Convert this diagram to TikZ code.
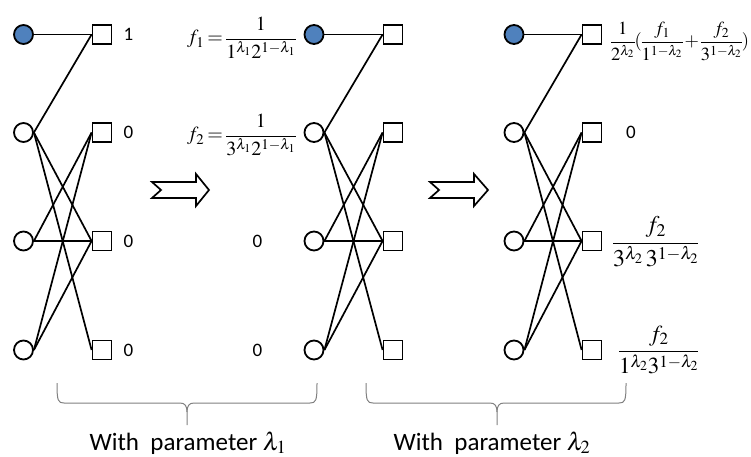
\documentclass[tikz,border=0pt]{standalone}
\usepackage{mathptmx}
\usepackage[no-math]{fontspec}
\setmainfont{Carlito}
\definecolor{nodeblue}{RGB}{79,129,189}
\definecolor{bracegray}{RGB}{128,128,128}
\newcommand{\fmtight}{\nulldelimiterspace=0pt\relax\medmuskip=2mu\relax\thickmuskip=3mu\relax}
\tikzset{
  vnode/.style={circle, draw=black, line width=1.8pt, minimum size=19pt, inner sep=0pt},
  snode/.style={rectangle, draw=black, line width=1.8pt, minimum size=19pt, inner sep=0pt, fill=white},
  edge/.style={line width=1.7pt},
  digit/.style={inner sep=0pt, font=\fontsize{19}{19}\selectfont},
  formula/.style={inner sep=0pt, anchor=base west, font=\fontsize{#1}{#1}\selectfont},
  formula/.default=20,
  bracepath/.style={draw=bracegray, line width=1pt},
  hollowarrow/.style={draw=black, line width=1.7pt, fill=white, line join=miter},
  caption/.style={inner sep=0pt, anchor=base, font=\fontsize{25}{25}\selectfont}
}
\begin{document}
\begin{tikzpicture}[x=1pt,y=-1pt]
\useasboundingbox (0,0) rectangle (751,457);

% three bipartite graphs
\foreach \g/\cx/\sx in {a/23.5/102,b/314/393,c/514/592}{
  \foreach \i/\y/\f in {1/34.5/nodeblue,2/132.5/white,3/241/white,4/350/white}{
    \node[vnode, fill=\f] (\g c\i) at (\cx,\y) {};
    \node[snode] (\g s\i) at (\sx,\y) {};
  }
  \foreach \p/\q in {1/1,2/1,2/3,2/4,3/2,3/3,4/2,4/3}
    \draw[edge] (\g c\p.east) -- (\g s\q.west);
}

% left labels
\node[digit] (la1) at (128.5,34.5) {1};
\node[digit] (la2) at (128.5,132.5) {0};
\node[digit] (la3) at (128.5,241) {0};
\node[digit] (la4) at (128.5,350) {0};

% middle labels
\node[formula] (f1) at (187,44) {\fmtight$\displaystyle f_1=\frac{1}{1^{\lambda_1}2^{1-\lambda_1}}$};
\node[formula] (f2) at (187,141) {\fmtight$\displaystyle f_2=\frac{1}{3^{\lambda_1}2^{1-\lambda_1}}$};
\node[digit] (lb3) at (257.5,241) {0};
\node[digit] (lb4) at (257.5,350) {0};

% right labels
\node[formula=18.5] (r1) at (611,47) {\fmtight$\displaystyle \frac{1}{2^{\lambda_2}}(\frac{f_1}{1^{1-\lambda_2}}+\frac{f_2}{3^{1-\lambda_2}})$};
\node[digit] (lc2) at (631,132.5) {0};
\node[formula=24] (r3) at (613,249) {\fmtight$\displaystyle \frac{f_2}{3^{\lambda_2}\,3^{1-\lambda_2}}$};
\node[formula=23] (r4) at (619,357) {\fmtight$\displaystyle \frac{f_2}{1^{\lambda_2}3^{1-\lambda_2}}$};

% hollow arrows
\draw[hollowarrow] (152,182) -- (196,182) -- (196,174) -- (209,190) -- (196,206) -- (196,198) -- (152,198) -- (161,190) -- cycle;
\draw[hollowarrow] (430,182) -- (474,182) -- (474,174) -- (488,190) -- (474,206) -- (474,198) -- (430,198) -- (439,190) -- cycle;

% braces
\draw[bracepath] (57,383) .. controls (57,401) and (58,403) .. (64,403) -- (180,403) .. controls (185,403) and (187,406) .. (187,412) -- (187,425);
\draw[bracepath] (317,383) .. controls (317,401) and (316,403) .. (310,403) -- (194,403) .. controls (189,403) and (187,406) .. (187,412);
\draw[bracepath] (366,383) .. controls (366,401) and (367,403) .. (373,403) -- (490,403) .. controls (495,403) and (497,406) .. (497,412) -- (497,425);
\draw[bracepath] (626,383) .. controls (626,401) and (625,403) .. (619,403) -- (504,403) .. controls (499,403) and (497,406) .. (497,412);

% captions
\node[caption] (cap1) at (188,450) {With\ \ parameter $\lambda_1$};
\node[caption] (cap2) at (492,450) {With\ \ parameter $\lambda_2$};
\end{tikzpicture}
\end{document}
